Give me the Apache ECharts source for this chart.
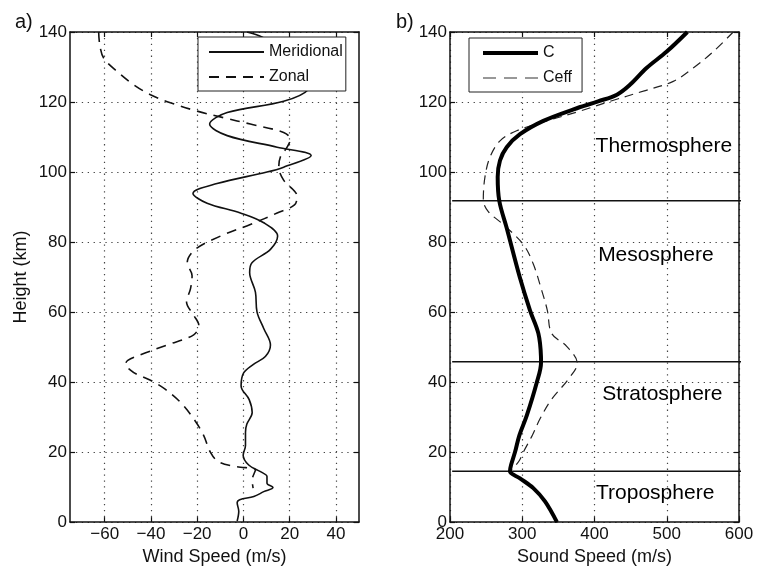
<!DOCTYPE html>
<html><head><meta charset="utf-8">
<script src="https://cdn.jsdelivr.net/npm/echarts@6/dist/echarts.min.js"></script>
<style>html,body{margin:0;padding:0;background:#fff}#c{width:760px;height:571px}</style>
</head><body><div id="c"></div>
<script>
// ---- Panel a) wind profiles (height km, speed m/s) ----
const merHeight = [140,138.6,135,131,127,123.5,120.2,117,113.7,110.4,107.1,104.7,101.4,100,96.7,93.9,91.1,88.3,85.5,81.7,77.9,74.1,71.3,65.7,60,55.3,50.6,47.3,45,42.6,38.9,35,31.3,28,25.7,21.9,19.1,16.3,14.4,13,11.1,9.9,8.7,7.3,6.4,5.5,3.1,0.3];
const merSpeed  = [1.6,8,17,25,29,28,17.4,-7,-14.6,-7,14.6,29.3,17.4,10.2,-11.4,-21.8,-15.7,-1.3,8.8,14.8,11.7,3.7,2.7,5.2,5.9,8.8,11.7,9.5,4.2,0.1,-1,2.5,3.8,1.5,0.9,0.9,-0.1,2.3,7.4,10.2,10.2,12.8,8.8,4.5,-1.6,-2.7,-2,-2.7];
const zonHeight = [140,136.2,132.5,128.7,124.9,122.1,119.8,117.4,115.5,113.7,111.3,109.4,107.1,104.3,101.4,97.7,93,90.6,88.3,85,81.7,77.9,74.1,70.4,66.6,62.9,59.1,56.3,53.5,50.6,47.8,46.2,45,43.5,42.2,40.3,37.9,34.2,29.5,24.8,20,17.2,15.8,14.9,12,9.7];
const zonSpeed  = [-62.6,-62.1,-60.4,-54.6,-47.4,-40.2,-31.6,-20,-8.5,3,17.4,20.3,18.9,16,15.3,17.4,23.2,22.1,14.6,3,-9.9,-20.8,-24.3,-22.2,-22.9,-24.6,-21.5,-19.3,-21.5,-33,-44.5,-50,-51,-49,-46,-39.5,-33.7,-27.2,-21.5,-17.2,-14.3,-10.7,-2.7,5.2,3.8,4.2];
const windTicks = [-60,-40,-20,0,20,40];

// ---- Panel b) sound speed profiles ----
const cHeight = [140,134.4,129.7,124.9,122.1,120.2,117.9,114.6,110.8,107.1,103.3,98.6,91.8,84,70,60.5,53.9,47.3,45.6,39.8,30.4,24.8,20,16.3,14.5,12.5,9.7,5.9,0];
const cSpeed  = [528.5,500,472,449,431,405,371,329.2,296.9,278.5,269.2,266,268.2,278.5,296.5,310.7,322.3,325.9,326,320,306.2,296,290,284.5,283,296.9,315.3,331.5,348];
const ceffHeight = [140,134.4,129.7,125.9,123.1,120.2,117.4,114.6,111.8,108.9,104.3,98.6,92,88.7,85,79.3,73.7,66.2,60.5,53.9,50.2,45.4,40.8,35.1,29.5,24.8,20,17.6,15.5,14.5,13.5];
const ceffSpeed  = [592,564.4,536.7,509,467.5,421.5,380,333.8,292.3,269.2,255.4,248.4,246.1,253,273.8,301.5,315.3,326.9,334.7,340.7,361.5,376.2,363.7,340.7,324.6,314,301.5,296,288,283,286];
const soundTicks = [200,300,400,500,600];

// atmosphere layers
const layerBounds = [14.5, 45.8, 91.8];
const layerNames = ['Troposphere','Stratosphere','Mesosphere','Thermosphere'];
const layerLabelSpeed = [484, 494, 485, 496];
const layerLabelHeight = [8.3, 36.5, 76.2, 107.4];

const FONT = 'Liberation Sans, Arial, sans-serif';
const INK = '#111';
const zip = (xs, ys) => xs.map((x, i) => [x, ys[i]]);
const fmt = v => String(v).replace('-', '\u2212');

function xPair(grid, min, max, ticks, name) {
  return [{
    type: 'value', gridIndex: grid, min, max, position: 'bottom',
    name, nameLocation: 'middle', nameGap: 25,
    nameTextStyle: { fontSize: 18, color: INK, fontFamily: FONT },
    axisLine: { show: true, onZero: false, lineStyle: { color: INK, width: 1.5 } },
    axisTick: { show: true, inside: true, length: 5, customValues: ticks, lineStyle: { color: INK, width: 1.2 } },
    axisLabel: { customValues: ticks, fontSize: 17, color: INK, margin: 4, fontFamily: FONT, formatter: fmt },
    splitLine: { show: true, lineStyle: { color: '#444', type: [1.3, 4.6], width: 1.2 } }
  }, {
    type: 'value', gridIndex: grid, min, max, position: 'top',
    axisLine: { show: true, onZero: false, lineStyle: { color: INK, width: 1.5 } },
    axisTick: { show: true, inside: true, length: 5, customValues: ticks, lineStyle: { color: INK, width: 1.2 } },
    axisLabel: { show: false }, splitLine: { show: false }
  }];
}
function yPair(grid, name) {
  return [{
    type: 'value', gridIndex: grid, min: 0, max: 140, interval: 20, position: 'left',
    name, nameLocation: 'middle', nameGap: 40,
    nameTextStyle: { fontSize: 18, color: INK, fontFamily: FONT },
    axisLine: { show: true, onZero: false, lineStyle: { color: INK, width: 1.5 } },
    axisTick: { show: true, inside: true, length: 5, lineStyle: { color: INK, width: 1.2 } },
    axisLabel: { fontSize: 17, color: INK, margin: 3, fontFamily: FONT },
    splitLine: { show: true, lineStyle: { color: '#444', type: [1.3, 4.6], width: 1.2 } }
  }, {
    type: 'value', gridIndex: grid, min: 0, max: 140, interval: 20, position: 'right',
    axisLine: { show: true, onZero: false, lineStyle: { color: INK, width: 1.5 } },
    axisTick: { show: true, inside: true, length: 5, lineStyle: { color: INK, width: 1.2 } },
    axisLabel: { show: false }, splitLine: { show: false }
  }];
}

const series = [
  { type: 'line', name: 'Meridional', xAxisIndex: 0, yAxisIndex: 0, data: zip(merSpeed, merHeight),
    symbol: 'none', smooth: 0.35, lineStyle: { color: INK, width: 1.6 }, itemStyle: { color: INK }, z: 3 },
  { type: 'line', name: 'Zonal', xAxisIndex: 0, yAxisIndex: 0, data: zip(zonSpeed, zonHeight),
    symbol: 'none', smooth: 0.35, lineStyle: { color: INK, width: 1.6, type: [10, 7] }, itemStyle: { color: INK }, z: 3 },
  { type: 'line', name: 'C', xAxisIndex: 2, yAxisIndex: 2, data: zip(cSpeed, cHeight),
    symbol: 'none', smooth: 0.35, lineStyle: { color: '#000', width: 4 }, itemStyle: { color: '#000' }, z: 4 },
  { type: 'line', name: 'Ceff', xAxisIndex: 2, yAxisIndex: 2, data: zip(ceffSpeed, ceffHeight),
    symbol: 'none', smooth: 0.35, lineStyle: { color: '#222', width: 1.2, type: [9, 6] }, itemStyle: { color: '#222' }, z: 3 }
];
layerBounds.forEach((h, i) => {
  series.push({ type: 'line', name: 'bound' + i, xAxisIndex: 2, yAxisIndex: 2, data: [[203, h], [605, h]],
    symbol: 'none', clip: false, silent: true, lineStyle: { color: INK, width: 1.5 }, z: 2 });
});
series.push({
  type: 'scatter', name: 'layers', xAxisIndex: 2, yAxisIndex: 2, symbolSize: 0, silent: true,
  itemStyle: { opacity: 1, color: INK },
  data: layerNames.map((n, i) => [layerLabelSpeed[i], layerLabelHeight[i], n]),
  label: { show: true, position: 'inside', formatter: p => p.value[2], fontSize: 21, color: '#000', opacity: 1, fontFamily: FONT }
});

const legendText = { fontSize: 16, color: INK, fontFamily: FONT };
const legendCommon = {
  orient: 'vertical', itemWidth: 55, itemHeight: 14, itemGap: 9,
  borderColor: '#222', borderWidth: 1, backgroundColor: '#fff', borderRadius: 0,
  itemStyle: { opacity: 0, borderWidth: 0 },
  textStyle: legendText, selectedMode: false
};

const option = {
  animation: false,
  backgroundColor: '#fff',
  textStyle: { fontFamily: FONT },
  title: [
    { text: 'a)', left: 10, top: 7, textStyle: { fontSize: 20, fontWeight: 'normal', color: INK, fontFamily: FONT } },
    { text: 'b)', left: 391, top: 7, textStyle: { fontSize: 20, fontWeight: 'normal', color: INK, fontFamily: FONT } }
  ],
  grid: [
    { left: 70, top: 32, width: 289, height: 496 },
    { left: 450, top: 32, width: 289, height: 496 }
  ],
  xAxis: [...xPair(0, -75, 50, windTicks, 'Wind Speed (m/s)'), ...xPair(1, 200, 600, soundTicks, 'Sound Speed (m/s)')],
  yAxis: [...yPair(0, 'Height (km)'), ...yPair(1, '')],
  legend: [
    Object.assign({}, legendCommon, { left: 198, top: 37, padding: [7, 3, 6, 10], data: ['Meridional', 'Zonal'] }),
    Object.assign({}, legendCommon, { left: 469, top: 38, padding: [7, 10, 6, 12],
      data: [
        { name: 'C', lineStyle: { width: 4, color: '#000' }, textStyle: legendText },
        { name: 'Ceff', lineStyle: { width: 1.2, type: [13, 8], color: '#333' }, textStyle: legendText }
      ] })
  ],
  series
};
const chart = echarts.init(document.getElementById('c'), null, { renderer: 'canvas' });
chart.setOption(option);
</script>
</body></html>
